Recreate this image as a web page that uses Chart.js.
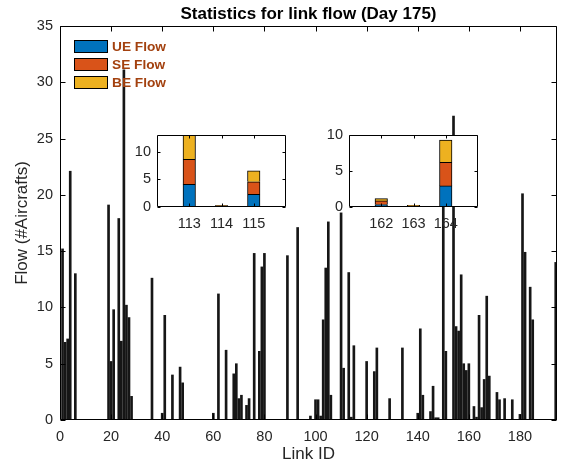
<!DOCTYPE html>
<html>
<head>
<meta charset="utf-8">
<title>Statistics for link flow (Day 175)</title>
<script src="https://cdn.jsdelivr.net/npm/chart.js@4.4.1/dist/chart.umd.min.js"></script>
<style>
  html, body { margin: 0; padding: 0; background: #fff; }
  #wrap { position: relative; width: 565px; height: 466px; font-family: 'Liberation Sans', Arial, Helvetica, sans-serif; }
  #wrap canvas { position: absolute; }
  #main   { left: 0; top: 0; }
  #inset1 { left: 125px; top: 128px; }
  #inset2 { left: 317px; top: 128px; }
  #legend { position: absolute; left: 74px; top: 40px; }
  .leg-row { display: flex; align-items: center; height: 13px; margin-bottom: 4.8px; }
  .leg-sq  { width: 32px; height: 11px; border: 1px solid #000; margin-right: 4px; }
  .leg-txt { font-weight: bold; font-size: 13.7px; color: #a3410f; line-height: 13px; }
</style>
</head>
<body>
<div id="wrap">
  <canvas id="main" width="565" height="466"></canvas>
  <canvas id="inset1" width="170" height="105"></canvas>
  <canvas id="inset2" width="170" height="105"></canvas>
  <div id="legend"></div>
</div>
<script>
/* ── DATA ───────────────────────────────────────────────────────────── */
// main panel: total flow per link (only links with non-zero flow)
const linkIds   = [1,2,3,4,6,19,20,21,23,24,25,26,27,28,36,40,41,44,47,48,60,62,65,68,69,70,71,73,74,76,
                   78,79,80,89,93,98,100,101,102,103,104,105,106,110,111,113,114,115,120,123,124,129,134,
                   140,141,142,145,146,147,148,150,151,154,155,156,157,158,159,160,162,163,164,165,166,167,
                   168,171,172,174,177,180,181,182,184,185,194];
const totalFlow = [15.2,6.9,7.2,22.1,13.0,19.1,5.2,9.8,17.9,7.0,31.1,10.2,9.1,2.1,12.6,0.6,9.3,4.0,4.7,3.3,
                   0.6,11.2,6.2,4.1,5.0,1.9,2.2,1.3,1.9,14.8,6.1,13.6,14.8,14.6,17.1,0.35,1.8,1.8,0.35,8.9,
                   13.5,17.6,2.2,18.4,4.6,13.1,0.25,6.6,5.2,4.3,6.4,1.9,6.4,0.6,8.1,2.2,0.75,3.0,0.2,0.2,
                   22.0,6.1,27.0,8.3,7.9,12.9,5.0,4.4,5.0,1.2,0.25,9.3,1.1,3.6,11.0,3.9,2.45,1.8,1.9,1.8,
                   0.5,20.1,14.9,11.8,8.9,14.0];
const xTicks    = [0,20,40,60,80,100,120,140,160,180];
const yTicks    = [0,5,10,15,20,25,30,35];

// inset 1: links 113-115
const inset1Ids = [113,114,115];
const inset1UE  = [4.1,0.1,2.3];
const inset1SE  = [4.5,0.1,2.25];
const inset1BE  = [4.4,0.05,2.0];
// inset 2: links 162-164
const inset2Ids = [162,163,164];
const inset2UE  = [0.35,0.08,2.93];
const inset2SE  = [0.5,0.08,3.27];
const inset2BE  = [0.32,0.06,3.1];
const insetYTicks = [0,5,10];

const flowNames  = ['UE Flow','SE Flow','BE Flow'];
const flowColors = ['#0072bd','#d95319','#edb120'];

/* ── SETUP ──────────────────────────────────────────────────────────── */
Chart.defaults.font.family = "'Liberation Sans', Arial, Helvetica, sans-serif";
Chart.defaults.color = '#262626';

const tickFont = { size: 14.5 };
const setTicks = vals => s => { s.ticks = vals.map(v => ({ value: v })); };
// fixed axis band, no extra label overflow padding
const fixSize  = (key, px) => s => {
  s[key] = px;
  s.paddingLeft = s.paddingRight = s.paddingTop = s.paddingBottom = 0;
};

// MATLAB-style box: white plot area, closed frame, inward ticks on all four sides
const boxTicks = {
  id: 'boxTicks',
  beforeDraw(chart) {
    const { ctx, chartArea: a } = chart;
    ctx.save();
    ctx.fillStyle = '#fff';
    ctx.fillRect(a.left, a.top, a.width, a.height);
    ctx.restore();
  },
  afterDraw(chart, args, opts) {
    const { ctx, chartArea: a, scales: { x, y } } = chart;
    const len = opts.len || 5;
    const L = Math.round(a.left) + .5, R = Math.round(a.right) - .5;
    const T = Math.round(a.top) + .5, B = Math.round(a.bottom) - .5;
    ctx.save();
    ctx.strokeStyle = '#000';
    ctx.lineWidth = 1;
    ctx.beginPath();
    x.ticks.forEach(t => {
      const px = Math.round(x.getPixelForValue(t.value)) + .5;
      ctx.moveTo(px, B); ctx.lineTo(px, B - len);
      ctx.moveTo(px, T); ctx.lineTo(px, T + len);
    });
    y.ticks.forEach(t => {
      const py = Math.round(y.getPixelForValue(t.value)) + .5;
      ctx.moveTo(L, py); ctx.lineTo(L + len, py);
      ctx.moveTo(R, py); ctx.lineTo(R - len, py);
    });
    ctx.rect(L, T, R - L, B - T);
    ctx.stroke();
    ctx.restore();
  },
};

/* ── MAIN CHART ─────────────────────────────────────────────────────── */
new Chart(document.getElementById('main'), {
  type: 'bar',
  data: {
    datasets: [{
      label: 'Total flow',
      data: linkIds.map((id, i) => ({ x: id, y: totalFlow[i] })),
      backgroundColor: '#161616',
      borderWidth: 0,
      barThickness: 2,
    }],
  },
  options: {
    responsive: false, animation: false,
    layout: { padding: { left: 0, right: 8, top: 0, bottom: 0 } },
    plugins: {
      legend: { display: false },
      tooltip: { enabled: false },
      title: {
        display: true, fullSize: false,
        text: 'Statistics for link flow (Day 175)',
        color: '#000', font: { size: 17, weight: 'bold' },
        padding: { top: 4, bottom: 1.6 },
      },
      boxTicks: { len: 5 },
    },
    scales: {
      x: {
        type: 'linear', offset: false, min: 0, max: 194.5,
        afterBuildTicks: setTicks(xTicks),
        afterFit: fixSize('height', 46),
        grid: { display: false, drawTicks: false }, border: { display: false },
        ticks: { font: tickFont, padding: 8, maxRotation: 0 },
        title: { display: true, text: 'Link ID', color: '#262626', font: { size: 17 }, padding: { top: 0, bottom: 1 } },
      },
      y: {
        min: 0, max: 35,
        afterBuildTicks: setTicks(yTicks),
        afterFit: fixSize('width', 60),
        grid: { display: false, drawTicks: false }, border: { display: false },
        ticks: { font: tickFont, padding: 7 },
        title: { display: true, text: 'Flow (#Aircrafts)', color: '#262626', font: { size: 17 }, padding: { top: 12, bottom: 0 } },
      },
    },
  },
  plugins: [boxTicks],
});

/* ── INSETS ─────────────────────────────────────────────────────────── */
function insetChart(id, ids, parts, xMin, xMax, yMax) {
  const datasets = parts.map((vals, k) => ({
    label: flowNames[k],
    data: ids.map((x, i) => ({ x, y: vals[i] })),
    backgroundColor: flowColors[k],
    borderColor: '#000', borderWidth: 1,
    barThickness: 12.5,
  }));
  return new Chart(document.getElementById(id), {
    type: 'bar',
    data: { datasets },
    options: {
      responsive: false, animation: false,
      layout: { padding: { left: 0, right: 9, top: 7, bottom: 0 } },
      plugins: { legend: { display: false }, tooltip: { enabled: false }, boxTicks: { len: 3 } },
      scales: {
        x: {
          type: 'linear', offset: false, stacked: true, min: xMin, max: xMax,
          afterBuildTicks: setTicks(ids),
          afterFit: fixSize('height', 26),
          grid: { display: false, drawTicks: false }, border: { display: false },
          ticks: { font: tickFont, padding: 8, maxRotation: 0 },
        },
        y: {
          stacked: true, min: 0, max: yMax,
          afterBuildTicks: setTicks(insetYTicks),
          afterFit: fixSize('width', 32),
          grid: { display: false, drawTicks: false }, border: { display: false },
          ticks: { font: tickFont, padding: 6 },
        },
      },
    },
    plugins: [boxTicks],
  });
}

insetChart('inset1', inset1Ids, [inset1UE, inset1SE, inset1BE], 112, 116, 13);
insetChart('inset2', inset2Ids, [inset2UE, inset2SE, inset2BE], 161, 165, 10);

/* ── LEGEND ─────────────────────────────────────────────────────────── */
document.getElementById('legend').innerHTML = flowNames.map((n, k) => `
  <div class="leg-row">
    <span class="leg-sq" style="background:${flowColors[k]}"></span>
    <span class="leg-txt">${n}</span>
  </div>`).join('');
</script>
</body>
</html>
